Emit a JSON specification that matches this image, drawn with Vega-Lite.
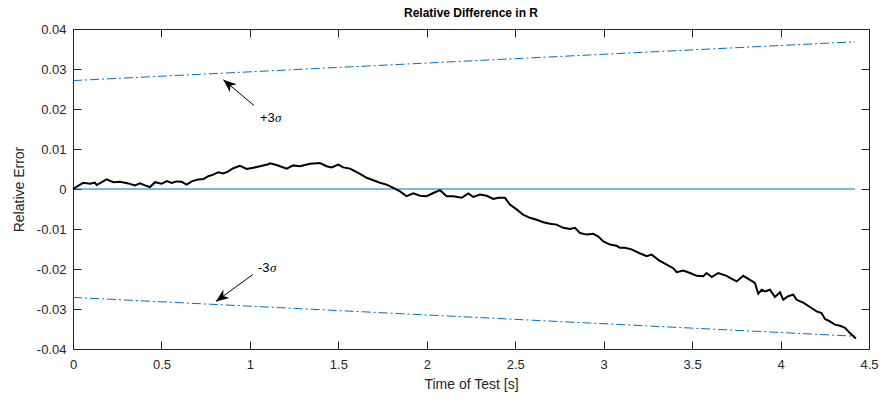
{
  "$schema": "https://vega.github.io/schema/vega-lite/v6.json",
  "width": 796,
  "height": 320,
  "autosize": "none",
  "padding": {"left": 73, "top": 29, "right": 14, "bottom": 53},
  "background": "white",
  "config": {
    "font": "Liberation Sans",
    "view": {"stroke": "#262626", "strokeWidth": 1},
    "axis": {
      "grid": false,
      "domainColor": "#262626",
      "tickColor": "#262626",
      "labelColor": "#262626",
      "titleColor": "#262626",
      "tickSize": -8,
      "labelFlush": false,
      "labelFont": "Liberation Sans",
      "titleFont": "Liberation Sans",
      "labelFontSize": 13,
      "titleFontSize": 14,
      "titleFontWeight": "normal"
    }
  },
  "title": {
    "text": "Relative Difference in R",
    "font": "Liberation Sans",
    "fontSize": 12,
    "fontWeight": "bold",
    "color": "#000000",
    "anchor": "middle",
    "offset": 3
  },
  "resolve": {"axis": {"x": "independent", "y": "independent"}},
  "datasets": {
    "err": [
      {"t":0,"v":0},{"t":0.040,"v":0.0011},{"t":0.058,"v":0.00155},{"t":0.096,"v":0.0013},{"t":0.124,"v":0.0016},{"t":0.134,"v":0.0010},{"t":0.190,"v":0.0024},{"t":0.228,"v":0.0017},{"t":0.266,"v":0.0018},{"t":0.313,"v":0.0014},{"t":0.350,"v":0.0009},{"t":0.379,"v":0.0014},{"t":0.407,"v":0.0009},{"t":0.435,"v":0.0005},{"t":0.464,"v":0.0017},{"t":0.501,"v":0.0013},{"t":0.530,"v":0.0020},{"t":0.558,"v":0.0015},{"t":0.586,"v":0.0019},{"t":0.614,"v":0.0018},{"t":0.643,"v":0.0011},{"t":0.671,"v":0.0019},{"t":0.708,"v":0.0024},{"t":0.737,"v":0.0025},{"t":0.765,"v":0.0032},{"t":0.793,"v":0.0036},{"t":0.821,"v":0.0042},{"t":0.850,"v":0.0039},{"t":0.878,"v":0.0044},{"t":0.906,"v":0.0052},{"t":0.944,"v":0.0058},{"t":0.982,"v":0.0050},{"t":1.019,"v":0.0053},{"t":1.057,"v":0.0057},{"t":1.104,"v":0.0062},{"t":1.114,"v":0.0064},{"t":1.151,"v":0.0060},{"t":1.208,"v":0.0051},{"t":1.245,"v":0.0059},{"t":1.283,"v":0.0057},{"t":1.340,"v":0.0063},{"t":1.396,"v":0.0065},{"t":1.434,"v":0.0057},{"t":1.462,"v":0.0054},{"t":1.500,"v":0.0061},{"t":1.528,"v":0.0054},{"t":1.566,"v":0.0051},{"t":1.604,"v":0.0042},{"t":1.622,"v":0.0038},{"t":1.660,"v":0.0028},{"t":1.698,"v":0.0022},{"t":1.735,"v":0.00155},{"t":1.773,"v":0.0011},{"t":1.811,"v":0.0003},{"t":1.849,"v":-0.0006},{"t":1.886,"v":-0.0018},{"t":1.924,"v":-0.0011},{"t":1.962,"v":-0.0017},{"t":1.999,"v":-0.0018},{"t":2.037,"v":-0.0010},{"t":2.075,"v":-0.0003},{"t":2.112,"v":-0.0018},{"t":2.150,"v":-0.0018},{"t":2.197,"v":-0.0022},{"t":2.235,"v":-0.0011},{"t":2.263,"v":-0.0020},{"t":2.301,"v":-0.0014},{"t":2.339,"v":-0.0017},{"t":2.376,"v":-0.0025},{"t":2.404,"v":-0.0022},{"t":2.442,"v":-0.0022},{"t":2.470,"v":-0.0039},{"t":2.508,"v":-0.0051},{"t":2.544,"v":-0.0064},{"t":2.583,"v":-0.0072},{"t":2.621,"v":-0.0077},{"t":2.659,"v":-0.0083},{"t":2.696,"v":-0.0087},{"t":2.734,"v":-0.0089},{"t":2.772,"v":-0.0097},{"t":2.810,"v":-0.0100},{"t":2.838,"v":-0.0097},{"t":2.866,"v":-0.0110},{"t":2.904,"v":-0.0114},{"t":2.941,"v":-0.0112},{"t":2.970,"v":-0.0119},{"t":2.998,"v":-0.0131},{"t":3.036,"v":-0.0139},{"t":3.073,"v":-0.0142},{"t":3.092,"v":-0.0147},{"t":3.120,"v":-0.0147},{"t":3.158,"v":-0.0151},{"t":3.200,"v":-0.0160},{"t":3.243,"v":-0.0168},{"t":3.271,"v":-0.0164},{"t":3.309,"v":-0.0177},{"t":3.356,"v":-0.0189},{"t":3.393,"v":-0.0198},{"t":3.413,"v":-0.0208},{"t":3.450,"v":-0.0204},{"t":3.488,"v":-0.0210},{"t":3.526,"v":-0.0217},{"t":3.563,"v":-0.0218},{"t":3.582,"v":-0.0210},{"t":3.611,"v":-0.0220},{"t":3.648,"v":-0.0210},{"t":3.695,"v":-0.0217},{"t":3.714,"v":-0.0222},{"t":3.752,"v":-0.0231},{"t":3.789,"v":-0.0217},{"t":3.827,"v":-0.0227},{"t":3.855,"v":-0.0235},{"t":3.874,"v":-0.0262},{"t":3.893,"v":-0.0252},{"t":3.912,"v":-0.0256},{"t":3.940,"v":-0.0252},{"t":3.968,"v":-0.0270},{"t":3.997,"v":-0.0258},{"t":4.015,"v":-0.0277},{"t":4.043,"v":-0.0268},{"t":4.072,"v":-0.0264},{"t":4.091,"v":-0.0277},{"t":4.128,"v":-0.0284},{"t":4.166,"v":-0.0295},{"t":4.204,"v":-0.0306},{"t":4.232,"v":-0.0310},{"t":4.251,"v":-0.0325},{"t":4.279,"v":-0.0331},{"t":4.307,"v":-0.0339},{"t":4.336,"v":-0.0342},{"t":4.364,"v":-0.0347},{"t":4.392,"v":-0.0360},{"t":4.426,"v":-0.0374}
    ],
    "zero": [{"t":0,"v":0},{"t":4.42,"v":0}],
    "bounds": [
      {"t":0,"v":0.0271,"s":"upper"},{"t":4.42,"v":0.0368,"s":"upper"},
      {"t":0,"v":-0.0271,"s":"lower"},{"t":4.42,"v":-0.0368,"s":"lower"}
    ],
    "arrowUp": [{"t":1.023,"v":0.0209,"t2":0.850,"v2":0.0273}],
    "arrowDown": [{"t":1.016,"v":-0.0214,"t2":0.808,"v2":-0.0281}],
    "labels": [{"t":1.057,"v":0.0178,"label":"+3"},{"t":1.046,"v":-0.0197,"label":"-3"}],
    "sigmaUp": [{"t":1.057,"v":0.0178,"label":"σ"}],
    "sigmaDown": [{"t":1.046,"v":-0.0197,"label":"σ"}]
  },
  "layer": [
    {
      "data": {"name": "zero"},
      "mark": {"type": "line", "color": "#0072BD", "strokeWidth": 1},
      "encoding": {
        "x": {"field": "t", "type": "quantitative", "scale": {"domain": [0, 4.5], "nice": false},
              "axis": {"orient": "bottom", "values": [0,0.5,1,1.5,2,2.5,3,3.5,4,4.5], "format": "~g", "title": "Time of Test [s]", "labelPadding": 17, "titlePadding": 6}},
        "y": {"field": "v", "type": "quantitative", "scale": {"domain": [-0.04, 0.04], "nice": false},
              "axis": {"orient": "left", "values": [-0.04,-0.03,-0.02,-0.01,0,0.01,0.02,0.03,0.04], "format": ".2~f", "labelExpr": "replace(datum.label, '\u2212', '-')", "title": "Relative Error", "labelPadding": 15, "titlePadding": 10}}
      }
    },
    {
      "data": {"name": "bounds"},
      "mark": {"type": "line", "color": "#0072BD", "strokeWidth": 1, "strokeDash": [9, 3, 2, 3]},
      "encoding": {
        "x": {"field": "t", "type": "quantitative", "axis": {"orient": "top", "values": [0,0.5,1,1.5,2,2.5,3,3.5,4,4.5], "labels": false, "title": null}},
        "y": {"field": "v", "type": "quantitative", "axis": {"orient": "right", "values": [-0.04,-0.03,-0.02,-0.01,0,0.01,0.02,0.03,0.04], "labels": false, "title": null}},
        "detail": {"field": "s"}
      }
    },
    {
      "data": {"name": "err"},
      "mark": {"type": "line", "color": "#000000", "strokeWidth": 2},
      "encoding": {
        "x": {"field": "t", "type": "quantitative", "axis": null},
        "y": {"field": "v", "type": "quantitative", "axis": null}
      }
    },
    {
      "data": {"name": "arrowUp"},
      "mark": {"type": "rule", "color": "#000000", "strokeWidth": 1},
      "encoding": {
        "x": {"field": "t", "type": "quantitative", "axis": null},
        "y": {"field": "v", "type": "quantitative", "axis": null},
        "x2": {"field": "t2"},
        "y2": {"field": "v2"}
      }
    },
    {
      "data": {"name": "arrowDown"},
      "mark": {"type": "rule", "color": "#000000", "strokeWidth": 1},
      "encoding": {
        "x": {"field": "t", "type": "quantitative", "axis": null},
        "y": {"field": "v", "type": "quantitative", "axis": null},
        "x2": {"field": "t2"},
        "y2": {"field": "v2"}
      }
    },
    {
      "data": {"name": "arrowUp"},
      "mark": {"type": "point", "shape": "M0,0 L-0.4,1 L0,0.7 L0.4,1 Z", "filled": true, "color": "#000000", "opacity": 1, "size": 676, "angle": 310},
      "encoding": {
        "x": {"field": "t2", "type": "quantitative", "axis": null},
        "y": {"field": "v2", "type": "quantitative", "axis": null}
      }
    },
    {
      "data": {"name": "arrowDown"},
      "mark": {"type": "point", "shape": "M0,0 L-0.4,1 L0,0.7 L0.4,1 Z", "filled": true, "color": "#000000", "opacity": 1, "size": 676, "angle": 234},
      "encoding": {
        "x": {"field": "t2", "type": "quantitative", "axis": null},
        "y": {"field": "v2", "type": "quantitative", "axis": null}
      }
    },
    {
      "data": {"name": "labels"},
      "mark": {"type": "text", "align": "left", "baseline": "middle", "fontSize": 13, "font": "Liberation Sans", "color": "#000000"},
      "encoding": {
        "x": {"field": "t", "type": "quantitative", "axis": null},
        "y": {"field": "v", "type": "quantitative", "axis": null},
        "text": {"field": "label"}
      }
    },
    {
      "data": {"name": "sigmaUp"},
      "mark": {"type": "text", "align": "left", "baseline": "middle", "fontSize": 13, "font": "Liberation Serif", "fontStyle": "italic", "color": "#000000", "dx": 15},
      "encoding": {
        "x": {"field": "t", "type": "quantitative", "axis": null},
        "y": {"field": "v", "type": "quantitative", "axis": null},
        "text": {"field": "label"}
      }
    },
    {
      "data": {"name": "sigmaDown"},
      "mark": {"type": "text", "align": "left", "baseline": "middle", "fontSize": 13, "font": "Liberation Serif", "fontStyle": "italic", "color": "#000000", "dx": 12},
      "encoding": {
        "x": {"field": "t", "type": "quantitative", "axis": null},
        "y": {"field": "v", "type": "quantitative", "axis": null},
        "text": {"field": "label"}
      }
    }
  ]
}
